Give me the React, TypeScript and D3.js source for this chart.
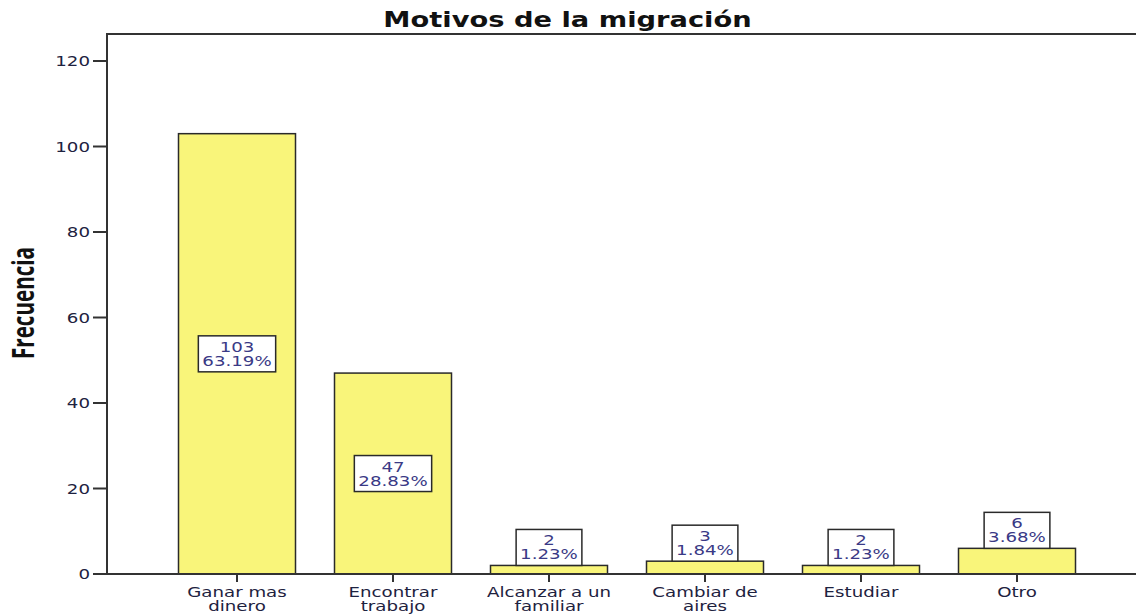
import React, { useEffect, useRef } from "react";
import * as d3 from "d3";

const categories = [
  ["Ganar mas", "dinero"],
  ["Encontrar", "trabajo"],
  ["Alcanzar a un", "familiar"],
  ["Cambiar de", "aires"],
  ["Estudiar"],
  ["Otro"],
];
const counts = [103, 47, 2, 3, 2, 6];
const yTicks = [0, 20, 40, 60, 80, 100, 120];
const title = "Motivos de la migración";
const yTitle = "Frecuencia";

const W = 1136;
const H = 616;
const SX = 1.3;
const FONT = "'DejaVu Sans', Verdana, sans-serif";

export default function App() {
  const ref = useRef<SVGSVGElement>(null);

  useEffect(() => {
    const svg = d3.select(ref.current);
    svg.selectAll("*").remove();

    const left = 107;
    const top = 34;
    const bottom = 574;
    const right = W;

    const y = d3.scaleLinear().domain([0, 120]).range([bottom, 61]);
    const x = d3
      .scaleBand<number>()
      .domain(d3.range(categories.length))
      .range([159, 1095])
      .paddingInner(0.25)
      .paddingOuter(0.125);

    const total = d3.sum(counts);
    const axisColor = "#333";
    const textColor = "#1e2240";
    const labelColor = "#3a3a86";

    // title
    svg
      .append("text")
      .attr("transform", `translate(${567.5},${27}) scale(${SX},1)`)
      .attr("text-anchor", "middle")
      .attr("font-family", FONT)
      .attr("font-weight", "bold")
      .attr("font-size", 21)
      .attr("fill", "#111")
      .text(title);

    // y title
    svg
      .append("text")
      .attr("transform", `translate(${34},${303}) scale(${SX},1) rotate(-90)`)
      .attr("text-anchor", "middle")
      .attr("font-family", "'Open Sans', 'Noto Sans', sans-serif")
      .attr("font-weight", "bold")
      .attr("font-size", 23)
      .attr("textLength", 112)
      .attr("lengthAdjust", "spacingAndGlyphs")
      .attr("fill", "#111")
      .text(yTitle);

    // bars
    svg
      .append("g")
      .selectAll("rect")
      .data(counts)
      .join("rect")
      .attr("x", (_, i) => x(i)!)
      .attr("width", x.bandwidth())
      .attr("y", (d) => y(d))
      .attr("height", (d) => bottom - y(d))
      .attr("fill", "#f9f57a")
      .attr("stroke", "#2a2a2a")
      .attr("stroke-width", 1.5);

    // frame / axes
    svg
      .append("path")
      .attr("d", `M${right},${top}H${left}V${bottom}H${right}`)
      .attr("fill", "none")
      .attr("stroke", axisColor)
      .attr("stroke-width", 2);

    // y ticks
    const yg = svg.append("g");
    yTicks.forEach((t) => {
      yg.append("line")
        .attr("x1", 93)
        .attr("x2", left)
        .attr("y1", y(t))
        .attr("y2", y(t))
        .attr("stroke", axisColor)
        .attr("stroke-width", 2);
      yg.append("text")
        .attr("transform", `translate(${90},${y(t) + 5}) scale(${SX},1)`)
        .attr("text-anchor", "end")
        .attr("font-family", FONT)
        .attr("font-size", 14)
        .attr("fill", textColor)
        .text(String(t));
    });

    // x ticks and labels
    const xg = svg.append("g");
    categories.forEach((lines, i) => {
      const cx = x(i)! + x.bandwidth() / 2;
      xg.append("line")
        .attr("x1", cx)
        .attr("x2", cx)
        .attr("y1", bottom)
        .attr("y2", bottom + 8)
        .attr("stroke", axisColor)
        .attr("stroke-width", 2);
      lines.forEach((ln, k) => {
        xg.append("text")
          .attr("transform", `translate(${cx},${597 + k * 14}) scale(${SX},1)`)
          .attr("text-anchor", "middle")
          .attr("font-family", FONT)
          .attr("font-size", 14)
          .attr("fill", textColor)
          .text(ln);
      });
    });

    // value labels
    const lg = svg.append("g");
    const boxH = 36;
    counts.forEach((v, i) => {
      const cx = x(i)! + x.bandwidth() / 2;
      const barTop = y(v);
      const barH = bottom - barTop;
      const boxTop = barH > boxH + 10 ? (barTop + bottom) / 2 - boxH / 2 : barTop - boxH;
      const pct = ((v / total) * 100).toFixed(2) + "%";
      const g = lg.append("g");
      const rect = g.append("rect");
      const t1 = g
        .append("text")
        .attr("transform", `translate(${cx},${boxTop + 16}) scale(${SX},1)`)
        .attr("text-anchor", "middle")
        .attr("font-family", FONT)
        .attr("font-size", 14)
        .attr("fill", labelColor)
        .text(String(v));
      const t2 = g
        .append("text")
        .attr("transform", `translate(${cx},${boxTop + 30}) scale(${SX},1)`)
        .attr("text-anchor", "middle")
        .attr("font-family", FONT)
        .attr("font-size", 14)
        .attr("fill", labelColor)
        .text(pct);
      const w =
        Math.max(
          (t1.node() as SVGTextElement).getComputedTextLength(),
          (t2.node() as SVGTextElement).getComputedTextLength()
        ) *
          SX +
        8;
      rect
        .attr("x", cx - w / 2)
        .attr("y", boxTop)
        .attr("width", w)
        .attr("height", boxH)
        .attr("fill", "#fff")
        .attr("stroke", "#2a2a2a")
        .attr("stroke-width", 1.5);
    });
  }, []);

  return (
    <svg
      ref={ref}
      width={W}
      height={H}
      style={{ position: "absolute", left: 0, top: 0, background: "#fff" }}
    />
  );
}
